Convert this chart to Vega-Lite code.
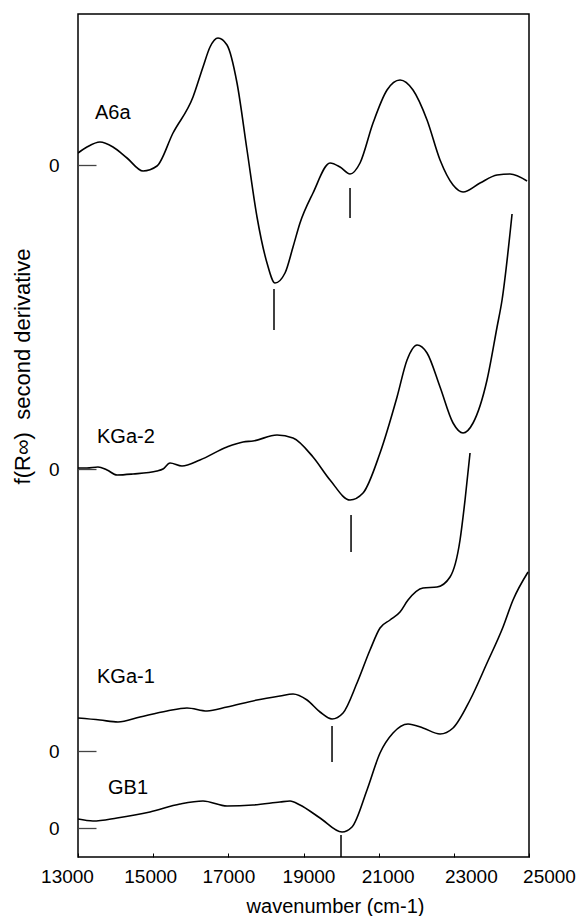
{
  "$schema": "https://vega.github.io/schema/vega-lite/v6.json",
  "autosize": {"type": "none"},
  "padding": {"left": 78, "top": 14, "right": 59, "bottom": 59},
  "width": 451,
  "height": 843,
  "background": "white",
  "config": {
    "view": {"stroke": "#000", "strokeWidth": 1.5},
    "font": "Liberation Sans"
  },
  "datasets": {
    "curves": [
      {"series": "A6a", "wn": 13000, "v": 704},
      {"series": "A6a", "wn": 13239, "v": 710},
      {"series": "A6a", "wn": 13585, "v": 715},
      {"series": "A6a", "wn": 13931, "v": 710},
      {"series": "A6a", "wn": 14304, "v": 699},
      {"series": "A6a", "wn": 14730, "v": 686},
      {"series": "A6a", "wn": 15102, "v": 691},
      {"series": "A6a", "wn": 15528, "v": 724},
      {"series": "A6a", "wn": 16060, "v": 760},
      {"series": "A6a", "wn": 16326, "v": 790},
      {"series": "A6a", "wn": 16513, "v": 810},
      {"series": "A6a", "wn": 16725, "v": 819},
      {"series": "A6a", "wn": 16965, "v": 812},
      {"series": "A6a", "wn": 17231, "v": 774},
      {"series": "A6a", "wn": 17497, "v": 707},
      {"series": "A6a", "wn": 17763, "v": 640},
      {"series": "A6a", "wn": 18029, "v": 594},
      {"series": "A6a", "wn": 18242, "v": 574},
      {"series": "A6a", "wn": 18508, "v": 584},
      {"series": "A6a", "wn": 18721, "v": 610},
      {"series": "A6a", "wn": 18907, "v": 634},
      {"series": "A6a", "wn": 19253, "v": 664},
      {"series": "A6a", "wn": 19706, "v": 694},
      {"series": "A6a", "wn": 19972, "v": 690},
      {"series": "A6a", "wn": 20238, "v": 683},
      {"series": "A6a", "wn": 20504, "v": 694},
      {"series": "A6a", "wn": 20850, "v": 734},
      {"series": "A6a", "wn": 21222, "v": 767},
      {"series": "A6a", "wn": 21568, "v": 777},
      {"series": "A6a", "wn": 21914, "v": 767},
      {"series": "A6a", "wn": 22287, "v": 737},
      {"series": "A6a", "wn": 22633, "v": 697},
      {"series": "A6a", "wn": 22979, "v": 672},
      {"series": "A6a", "wn": 23245, "v": 665},
      {"series": "A6a", "wn": 23697, "v": 674},
      {"series": "A6a", "wn": 24150, "v": 682},
      {"series": "A6a", "wn": 24496, "v": 683},
      {"series": "A6a", "wn": 24948, "v": 676},

      {"series": "KGa-2", "wn": 13000, "v": 389},
      {"series": "KGa-2", "wn": 13239, "v": 389},
      {"series": "KGa-2", "wn": 13532, "v": 390},
      {"series": "KGa-2", "wn": 13772, "v": 387},
      {"series": "KGa-2", "wn": 14038, "v": 382},
      {"series": "KGa-2", "wn": 14464, "v": 383},
      {"series": "KGa-2", "wn": 15102, "v": 386},
      {"series": "KGa-2", "wn": 15262, "v": 388},
      {"series": "KGa-2", "wn": 15448, "v": 394},
      {"series": "KGa-2", "wn": 15767, "v": 391},
      {"series": "KGa-2", "wn": 16246, "v": 397},
      {"series": "KGa-2", "wn": 16965, "v": 410},
      {"series": "KGa-2", "wn": 17391, "v": 415},
      {"series": "KGa-2", "wn": 17657, "v": 416},
      {"series": "KGa-2", "wn": 18295, "v": 422},
      {"series": "KGa-2", "wn": 18721, "v": 419},
      {"series": "KGa-2", "wn": 19253, "v": 400},
      {"series": "KGa-2", "wn": 19706, "v": 377},
      {"series": "KGa-2", "wn": 20238, "v": 357},
      {"series": "KGa-2", "wn": 20584, "v": 364},
      {"series": "KGa-2", "wn": 21036, "v": 404},
      {"series": "KGa-2", "wn": 21489, "v": 460},
      {"series": "KGa-2", "wn": 21755, "v": 497},
      {"series": "KGa-2", "wn": 22021, "v": 512},
      {"series": "KGa-2", "wn": 22287, "v": 504},
      {"series": "KGa-2", "wn": 22633, "v": 470},
      {"series": "KGa-2", "wn": 22979, "v": 434},
      {"series": "KGa-2", "wn": 23245, "v": 424},
      {"series": "KGa-2", "wn": 23511, "v": 434},
      {"series": "KGa-2", "wn": 23883, "v": 477},
      {"series": "KGa-2", "wn": 24150, "v": 530},
      {"series": "KGa-2", "wn": 24283, "v": 557},
      {"series": "KGa-2", "wn": 24549, "v": 643},

      {"series": "KGa-1", "wn": 13000, "v": 139},
      {"series": "KGa-1", "wn": 13585, "v": 137},
      {"series": "KGa-1", "wn": 14064, "v": 135},
      {"series": "KGa-1", "wn": 14650, "v": 140},
      {"series": "KGa-1", "wn": 15368, "v": 146},
      {"series": "KGa-1", "wn": 15900, "v": 149},
      {"series": "KGa-1", "wn": 16433, "v": 146},
      {"series": "KGa-1", "wn": 16965, "v": 150},
      {"series": "KGa-1", "wn": 17763, "v": 157},
      {"series": "KGa-1", "wn": 18375, "v": 161},
      {"series": "KGa-1", "wn": 18721, "v": 163},
      {"series": "KGa-1", "wn": 19094, "v": 157},
      {"series": "KGa-1", "wn": 19440, "v": 145},
      {"series": "KGa-1", "wn": 19759, "v": 138},
      {"series": "KGa-1", "wn": 20052, "v": 144},
      {"series": "KGa-1", "wn": 20424, "v": 174},
      {"series": "KGa-1", "wn": 20770, "v": 207},
      {"series": "KGa-1", "wn": 21036, "v": 229},
      {"series": "KGa-1", "wn": 21302, "v": 237},
      {"series": "KGa-1", "wn": 21568, "v": 245},
      {"series": "KGa-1", "wn": 21781, "v": 257},
      {"series": "KGa-1", "wn": 22180, "v": 269},
      {"series": "KGa-1", "wn": 22553, "v": 270},
      {"series": "KGa-1", "wn": 22899, "v": 280},
      {"series": "KGa-1", "wn": 23165, "v": 317},
      {"series": "KGa-1", "wn": 23298, "v": 357},
      {"series": "KGa-1", "wn": 23431, "v": 404},

      {"series": "GB1", "wn": 13000, "v": 38},
      {"series": "GB1", "wn": 13399, "v": 36},
      {"series": "GB1", "wn": 14038, "v": 39},
      {"series": "GB1", "wn": 14916, "v": 45},
      {"series": "GB1", "wn": 15714, "v": 53},
      {"series": "GB1", "wn": 16326, "v": 56},
      {"series": "GB1", "wn": 16965, "v": 51},
      {"series": "GB1", "wn": 17657, "v": 52},
      {"series": "GB1", "wn": 18375, "v": 55},
      {"series": "GB1", "wn": 18641, "v": 56},
      {"series": "GB1", "wn": 18907, "v": 52},
      {"series": "GB1", "wn": 19440, "v": 39},
      {"series": "GB1", "wn": 20025, "v": 25},
      {"series": "GB1", "wn": 20291, "v": 30},
      {"series": "GB1", "wn": 20690, "v": 67},
      {"series": "GB1", "wn": 21036, "v": 104},
      {"series": "GB1", "wn": 21382, "v": 124},
      {"series": "GB1", "wn": 21781, "v": 133},
      {"series": "GB1", "wn": 22180, "v": 129},
      {"series": "GB1", "wn": 22633, "v": 123},
      {"series": "GB1", "wn": 22979, "v": 129},
      {"series": "GB1", "wn": 23431, "v": 157},
      {"series": "GB1", "wn": 23883, "v": 194},
      {"series": "GB1", "wn": 24309, "v": 230},
      {"series": "GB1", "wn": 24575, "v": 257},
      {"series": "GB1", "wn": 24975, "v": 285}
    ],
    "markers": [
      {"series": "A6a", "wn": 18215, "v1": 527, "v2": 568},
      {"series": "A6a", "wn": 20238, "v1": 639, "v2": 669},
      {"series": "KGa-2", "wn": 20265, "v1": 305, "v2": 342},
      {"series": "KGa-1", "wn": 19759, "v1": 95, "v2": 131},
      {"series": "GB1", "wn": 19998, "v1": 0, "v2": 22}
    ],
    "labels": [
      {"label": "A6a", "wn": 13452, "v": 744},
      {"label": "KGa-2", "wn": 13506, "v": 420},
      {"label": "KGa-1", "wn": 13506, "v": 180},
      {"label": "GB1", "wn": 13798, "v": 69}
    ]
  },
  "layer": [
    {
      "data": {"name": "curves"},
      "mark": {"type": "line", "color": "#000", "strokeWidth": 1.6, "interpolate": "monotone", "clip": true},
      "encoding": {
        "x": {
          "field": "wn", "type": "quantitative",
          "scale": {"domain": [13000, 25000], "nice": false, "zero": false},
          "axis": {
            "values": [13000, 15000, 17000, 19000, 21000, 23000, 25000],
            "format": "d",
            "grid": false,
            "domain": false,
            "ticks": true,
            "tickSize": -4,
            "tickColor": "#000",
            "labelFontSize": 19,
            "labelColor": "#000",
            "labelPadding": 14,
            "labelFlush": false,
            "labelOverlap": false,
            "labelOffset": {
              "condition": [
                {"test": "datum.value == 13000", "value": -11},
                {"test": "datum.value == 15000", "value": -3},
                {"test": "datum.value == 19000", "value": 5},
                {"test": "datum.value == 21000", "value": 9},
                {"test": "datum.value == 23000", "value": 17},
                {"test": "datum.value == 25000", "value": 20}
              ],
              "value": 0
            },
            "title": "wavenumber (cm-1)",
            "titleFontSize": 20,
            "titleFontWeight": "normal",
            "titleColor": "#000",
            "titleX": 257,
            "titleY": 49,
            "titleBaseline": "middle"
          }
        },
        "y": {
          "field": "v", "type": "quantitative",
          "scale": {"domain": [0, 843], "nice": false, "zero": false},
          "axis": {
            "values": [29, 106, 388, 692],
            "labelExpr": "'0'",
            "grid": false,
            "domain": false,
            "tickSize": -18,
            "tickColor": "#444",
            "tickWidth": 1.3,
            "labelFontSize": 19,
            "labelColor": "#000",
            "labelPadding": 37,
            "title": "f(R∞)\u00a0 second derivative",
            "titleFontSize": 22,
            "titleFontWeight": "normal",
            "titleColor": "#000",
            "titleAngle": -90,
            "titleX": -56,
            "titleY": 352,
            "titleBaseline": "middle",
            "titleAlign": "center"
          }
        },
        "detail": {"field": "series"}
      }
    },
    {
      "data": {"name": "markers"},
      "mark": {"type": "rule", "color": "#000", "strokeWidth": 1.5},
      "encoding": {
        "x": {"field": "wn", "type": "quantitative"},
        "y": {"field": "v1", "type": "quantitative"},
        "y2": {"field": "v2"}
      }
    },
    {
      "data": {"name": "labels"},
      "mark": {"type": "text", "align": "left", "baseline": "middle", "fontSize": 20, "color": "#000"},
      "encoding": {
        "x": {"field": "wn", "type": "quantitative"},
        "y": {"field": "v", "type": "quantitative"},
        "text": {"field": "label"}
      }
    }
  ]
}
